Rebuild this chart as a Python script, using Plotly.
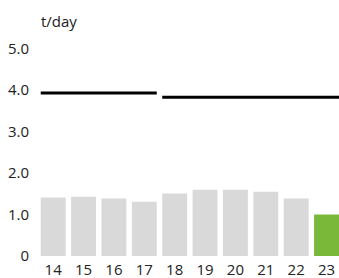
import plotly.graph_objects as go

years = ["14", "15", "16", "17", "18", "19", "20", "21", "22", "23"]
values = [1.41, 1.43, 1.39, 1.31, 1.51, 1.60, 1.60, 1.55, 1.39, 1.00]
bar_colors = ["#d9d9d9"] * 9 + ["#7ab83a"]
# reference lines: (first category index, last category index, value)
ref_segments = [(0, 3, 3.93), (4, 9, 3.83)]
y_ticks = [0, 1, 2, 3, 4, 5]
y_ticktext = ["0", "1.0", "2.0", "3.0", "4.0", "5.0"]
unit = "t/day"

BW = 0.82
xs = list(range(len(years)))

fig = go.Figure()
fig.add_trace(go.Bar(x=xs, y=values, width=BW, marker=dict(color=bar_colors, line=dict(width=0)),
                     showlegend=False, hoverinfo="skip"))
for i0, i1, v in ref_segments:
    fig.add_trace(go.Scatter(x=[xs[i0] - BW / 2, xs[i1] + BW / 2], y=[v, v], mode="lines",
                             line=dict(color="#000000", width=3), showlegend=False, hoverinfo="skip"))

font = dict(family="'Open Sans', 'Noto Sans', sans-serif", size=15, color="#222222")
fig.update_layout(
    width=339, height=278,
    margin=dict(l=38, r=0, t=28, b=22, autoexpand=False),
    paper_bgcolor="white", plot_bgcolor="white",
    font=font,
    xaxis=dict(range=[-0.5, 9.41], tickvals=xs, ticktext=years, showgrid=False, zeroline=False,
               showline=False, ticks="", tickfont=font, fixedrange=True, automargin=False,
               ticklabelstandoff=3),
    yaxis=dict(range=[0, 5.5], tickvals=y_ticks, ticktext=y_ticktext, showgrid=False, zeroline=False,
               showline=False, ticks="", tickfont=font, ticklabelstandoff=8, fixedrange=True,
               automargin=False),
    annotations=[dict(text=unit, xref="paper", yref="paper", x=0.0, y=1.0, yshift=-5, xshift=1,
                      xanchor="left", yanchor="bottom", showarrow=False, font=font)],
)
fig.write_html("out.html", config={"displayModeBar": False},
               post_script="document.body.style.margin='0';document.body.style.overflow='hidden';")
